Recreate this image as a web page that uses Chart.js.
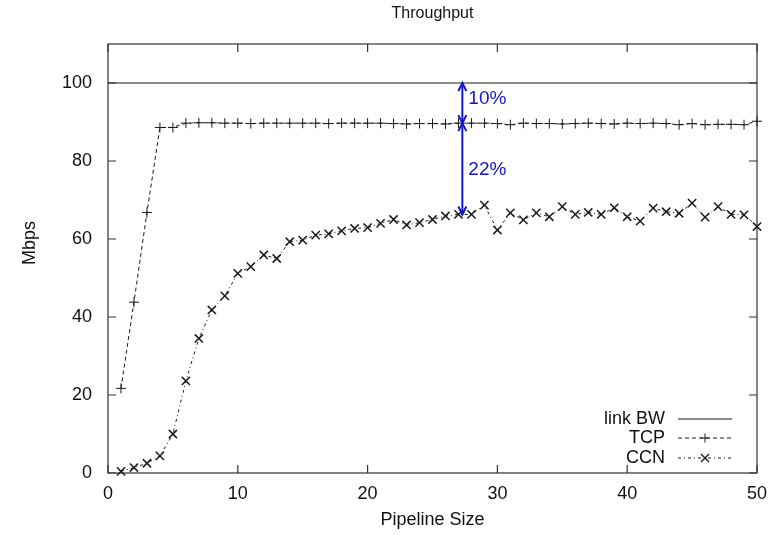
<!DOCTYPE html>
<html><head><meta charset="utf-8">
<script src="https://cdn.jsdelivr.net/npm/chart.js@4/dist/chart.umd.min.js"></script>
<style>html,body{margin:0;padding:0;background:#fff}#wrap{width:778px;height:535px}</style>
</head><body><div id="wrap"><canvas id="c" width="778" height="535"></canvas></div>
<script>
const pipelineSize = [1,2,3,4,5,6,7,8,9,10,11,12,13,14,15,16,17,18,19,20,21,22,23,24,25,26,27,28,29,30,31,32,33,34,35,36,37,38,39,40,41,42,43,44,45,46,47,48,49,50];
const tcpMbps = [21.7,43.8,66.8,88.6,88.6,89.7,89.8,89.8,89.7,89.7,89.6,89.7,89.7,89.7,89.7,89.7,89.6,89.7,89.7,89.7,89.7,89.6,89.5,89.6,89.6,89.5,89.7,89.7,89.7,89.6,89.3,89.7,89.6,89.6,89.5,89.6,89.7,89.6,89.5,89.7,89.6,89.7,89.6,89.3,89.6,89.3,89.4,89.4,89.3,90.2];
const ccnMbps = [0.4,1.4,2.5,4.4,10.0,23.6,34.5,41.8,45.4,51.2,52.9,55.9,55.0,59.3,59.7,61.0,61.3,62.1,62.7,62.9,64.0,65.0,63.6,64.2,65.0,65.9,66.3,66.3,68.7,62.3,66.7,64.9,66.7,65.7,68.3,66.3,66.8,66.3,68.0,65.7,64.6,67.9,67.0,66.6,69.2,65.6,68.3,66.3,66.2,63.2];
const linkBWRange = [0, 50];
const linkBWValue = 100;
const xTicks = [0,10,20,30,40,50];
const yTicks = [0,20,40,60,80,100];
const seriesNames = ['link BW','TCP','CCN'];
const yAxisTitle = 'Mbps';
const gapX = 27.3;
const gapLevels = [100, 89.7, 66.3];
const gapLabels = ['10%','22%'];
const gapLabelY = [96.0, 77.8];

const FONT = "'Liberation Sans', Arial, Helvetica, sans-serif";
Chart.defaults.font.family = FONT;
Chart.defaults.color = '#111';

const INK = '#1a1a1a';
const BLUE = '#1414cc';

const framePlugin = {
  id: 'frame',
  beforeDatasetsDraw(chart) {
    const {ctx, chartArea: a, scales: {x, y}} = chart;
    ctx.save();
    ctx.strokeStyle = '#333';
    ctx.lineWidth = 1.2;
    ctx.strokeRect(a.left, a.top, a.right - a.left, a.bottom - a.top);
    const L = 8;
    ctx.beginPath();
    xTicks.forEach(v => {
      const px = x.getPixelForValue(v);
      ctx.moveTo(px, a.bottom); ctx.lineTo(px, a.bottom - L);
      ctx.moveTo(px, a.top); ctx.lineTo(px, a.top + L);
    });
    yTicks.forEach(v => {
      const py = y.getPixelForValue(v);
      ctx.moveTo(a.left, py); ctx.lineTo(a.left + L, py);
      ctx.moveTo(a.right, py); ctx.lineTo(a.right - L, py);
    });
    ctx.stroke();
    // y axis title
    ctx.fillStyle = '#111';
    ctx.font = '18px ' + FONT;
    ctx.textAlign = 'center';
    ctx.textBaseline = 'middle';
    ctx.translate(30, a.top + 199);
    ctx.rotate(-Math.PI / 2);
    ctx.fillText(yAxisTitle, 0, 0);
    ctx.restore();
  }
};

function arrowHead(ctx, x, y, dir) {
  ctx.beginPath();
  ctx.moveTo(x - 4, y + dir * 8);
  ctx.lineTo(x, y);
  ctx.lineTo(x + 4, y + dir * 8);
  ctx.stroke();
}

const annotPlugin = {
  id: 'annot',
  afterDatasetsDraw(chart) {
    const {ctx, scales: {x, y}} = chart;
    const px = x.getPixelForValue(gapX);
    ctx.save();
    ctx.strokeStyle = BLUE;
    ctx.fillStyle = BLUE;
    ctx.lineWidth = 2;
    for (let i = 0; i < 2; i++) {
      const y1 = y.getPixelForValue(gapLevels[i]);
      const y2 = y.getPixelForValue(gapLevels[i + 1]);
      ctx.beginPath(); ctx.moveTo(px, y1); ctx.lineTo(px, y2); ctx.stroke();
      arrowHead(ctx, px, y1, 1);
      arrowHead(ctx, px, y2, -1);
      ctx.font = '19px ' + FONT;
      ctx.textAlign = 'left';
      ctx.textBaseline = 'middle';
      ctx.fillText(gapLabels[i], px + 6, y.getPixelForValue(gapLabelY[i]));
    }
    ctx.restore();
  }
};

const legendPlugin = {
  id: 'keyBox',
  afterDraw(chart) {
    const {ctx, chartArea: a} = chart;
    const x2 = a.right - 25, x1 = x2 - 54, xt = x1 - 13, xm = (x1 + x2) / 2;
    const rows = [a.bottom - 54, a.bottom - 35, a.bottom - 15];
    ctx.save();
    ctx.font = '18px ' + FONT;
    ctx.textAlign = 'right';
    ctx.textBaseline = 'middle';
    ctx.fillStyle = '#111';
    chart.data.datasets.forEach((ds, i) => {
      const ry = rows[i];
      ctx.fillText(ds.label, xt, ry);
      ctx.strokeStyle = INK;
      ctx.lineWidth = 1;
      ctx.setLineDash(ds.borderDash || []);
      ctx.beginPath(); ctx.moveTo(x1, ry); ctx.lineTo(x2, ry); ctx.stroke();
      ctx.setLineDash([]);
      const r = 4.5;
      if (ds.pointStyle === 'cross') {
        ctx.beginPath(); ctx.moveTo(xm - r, ry); ctx.lineTo(xm + r, ry);
        ctx.moveTo(xm, ry - r); ctx.lineTo(xm, ry + r); ctx.stroke();
      } else if (ds.pointStyle === 'crossRot') {
        const d = 4;
        ctx.lineWidth = 1.4;
        ctx.beginPath(); ctx.moveTo(xm - d, ry - d); ctx.lineTo(xm + d, ry + d);
        ctx.moveTo(xm - d, ry + d); ctx.lineTo(xm + d, ry - d); ctx.stroke();
      }
    });
    ctx.restore();
  }
};

new Chart(document.getElementById('c'), {
  type: 'line',
  data: {
    datasets: [
      {
        label: seriesNames[0],
        data: linkBWRange.map(v => ({x: v, y: linkBWValue})),
        borderColor: INK, borderWidth: 1.2, pointRadius: 0, borderDash: []
      },
      {
        label: seriesNames[1],
        data: pipelineSize.map((v, i) => ({x: v, y: tcpMbps[i]})),
        borderColor: INK, borderWidth: 1, borderDash: [4, 3],
        pointStyle: 'cross', pointRadius: 5, pointBorderWidth: 1,
        pointBorderColor: INK, clip: false
      },
      {
        label: seriesNames[2],
        data: pipelineSize.map((v, i) => ({x: v, y: ccnMbps[i]})),
        borderColor: INK, borderWidth: 1, borderDash: [3, 3, 1, 3],
        pointStyle: 'crossRot', pointRadius: 5.8, pointBorderWidth: 1.5,
        pointBorderColor: INK, clip: false
      }
    ]
  },
  options: {
    responsive: false,
    animation: false,
    devicePixelRatio: 1,
    layout: {padding: {left: 0, right: 21, top: 0, bottom: 0}},
    elements: {line: {tension: 0}},
    plugins: {
      legend: {display: false},
      tooltip: {enabled: false},
      title: {
        display: true, text: 'Throughput', fullSize: false,
        color: '#111', font: {size: 16, weight: 'normal', family: FONT},
        padding: {top: 4, bottom: 20.8}
      }
    },
    scales: {
      x: {
        type: 'linear', min: 0, max: 50,
        afterBuildTicks: s => { s.ticks = xTicks.map(v => ({value: v})); },
        afterFit: s => { s.height = 62; },
        grid: {display: false, drawTicks: false},
        border: {display: false},
        ticks: {padding: 10, font: {size: 18}, color: '#111', maxRotation: 0},
        title: {display: true, text: 'Pipeline Size', color: '#111', font: {size: 18}, padding: {top: 0, bottom: 4}}
      },
      y: {
        type: 'linear', min: 0, max: 110,
        afterBuildTicks: s => { s.ticks = yTicks.map(v => ({value: v})); },
        afterFit: s => { s.width = 108; },
        grid: {display: false, drawTicks: false},
        border: {display: false},
        ticks: {padding: 16, font: {size: 18}, color: '#111'},
        title: {display: false}
      }
    }
  },
  plugins: [framePlugin, annotPlugin, legendPlugin]
});
</script>
</body></html>
